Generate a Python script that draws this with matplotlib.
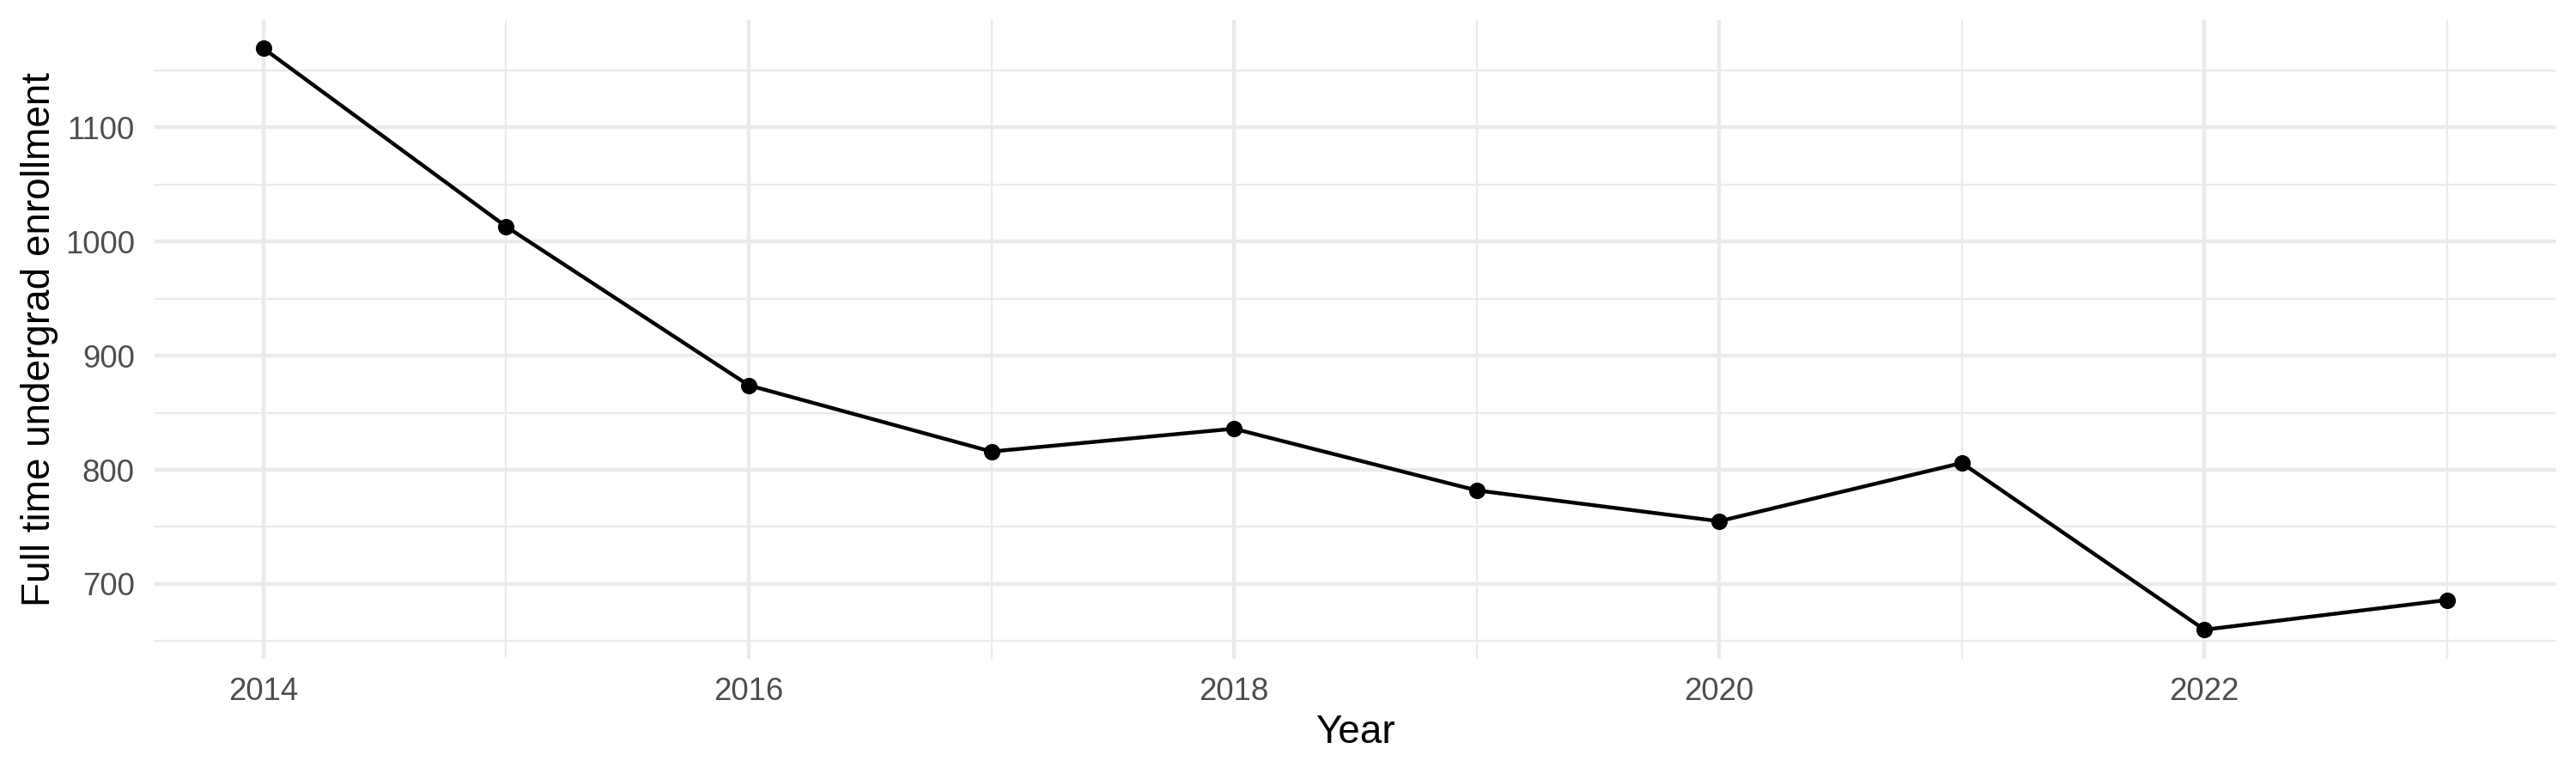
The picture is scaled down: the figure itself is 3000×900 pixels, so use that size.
import matplotlib
matplotlib.use("Agg")
import matplotlib.pyplot as plt
from matplotlib.ticker import MultipleLocator

years = [2014, 2015, 2016, 2017, 2018, 2019, 2020, 2021, 2022, 2023]
enrollment = [1169, 1013, 874, 816, 836, 782, 755, 806, 660, 686]

x_title = "Year"
y_title = "Full time undergrad enrollment"

plt.rcParams['font.family'] = ['Liberation Sans', 'DejaVu Sans']

fig = plt.figure(figsize=(10, 3), dpi=300)
ax = fig.add_axes([179.7 / 3000, 133 / 900, (2977 - 179.7) / 3000, (877.5 - 133) / 900])

ax.plot(years, enrollment, color='black', lw=1.07, zorder=3)
ax.plot(years, enrollment, 'o', color='black', ms=4.6, mew=0, zorder=4)

# ggplot-like expansion of 5% on each side
xr = max(years) - min(years)
ax.set_xlim(min(years) - 0.05 * xr, max(years) + 0.05 * xr)
yr = max(enrollment) - min(enrollment)
ax.set_ylim(min(enrollment) - 0.05 * yr, max(enrollment) + 0.05 * yr)

ax.xaxis.set_major_locator(MultipleLocator(2))
ax.xaxis.set_minor_locator(MultipleLocator(1))
ax.yaxis.set_major_locator(MultipleLocator(100))
ax.yaxis.set_minor_locator(MultipleLocator(50))

ax.grid(which='major', color='#EBEBEB', lw=1.07)
ax.grid(which='minor', color='#EBEBEB', lw=0.53)
ax.set_axisbelow(True)

for s in ax.spines.values():
    s.set_visible(False)

ax.tick_params(which='both', length=0)
ax.tick_params(axis='x', labelsize=8.8, labelcolor='#4D4D4D', pad=5)
ax.tick_params(axis='y', labelsize=8.8, labelcolor='#4D4D4D', pad=5.5)

ax.set_xlabel(x_title, fontsize=11, color='black')
ax.set_ylabel(y_title, fontsize=11, color='black')
ax.xaxis.set_label_coords(0.5, -0.086)
ax.yaxis.set_label_coords(-0.040, 0.5)

fig.savefig("out.png", dpi=300, facecolor='white')
